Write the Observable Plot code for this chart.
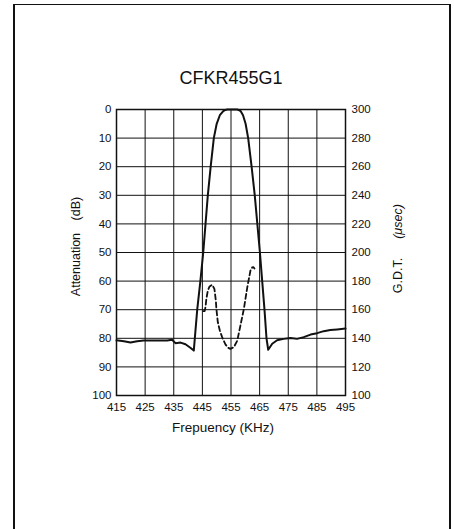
<!DOCTYPE html>
<html>
<head>
<meta charset="utf-8">
<script src="https://cdn.jsdelivr.net/npm/d3@7"></script>
<script src="https://cdn.jsdelivr.net/npm/@observablehq/plot@0.6"></script>
<style>
  html, body { margin: 0; padding: 0; background: #fff; }
  #wrap { position: relative; width: 454px; height: 529px; overflow: hidden; background: #fff; }
  #border { position: absolute; left: 13px; top: 4px; width: 434px; height: 600px;
            border-left: 2px solid #111; border-right: 2px solid #111; border-top: 1.5px solid #111; }
  #chart { position: absolute; left: 0; top: 0; }
</style>
</head>
<body>
<div id="wrap"><div id="border"></div><div id="chart"></div></div>
<script>
// Attenuation curve (dB) vs frequency (kHz)
const attFreq = [415, 417.6, 419.9, 422.2, 424.5, 429.2, 432.7, 434.4, 435.6, 437.4, 439.1, 440.8, 442,
  443.2, 444.3, 445.3, 446.1, 446.9, 447.9, 449, 450, 451.1, 452.3, 453, 453.7, 455.5, 457.2, 457.9, 458.4,
  459.2, 460.1, 461, 462.2, 463.3, 464.2, 465.1, 465.9, 466.7, 467.4, 468, 469.4, 471.1, 473.4, 475.8,
  478.1, 480.4, 482.8, 485.1, 487.4, 489.7, 492.1, 495];
const attDb = [80.7, 81, 81.5, 81, 80.8, 80.8, 80.8, 80.5, 81.7, 81.5, 82.1, 83.3, 84.3,
  70, 60, 50, 40, 30, 20, 10, 5, 2, 0.6, 0.15, 0, 0, 0, 0.3, 0.6,
  2, 5, 10, 20, 30, 40, 50, 60, 70, 80, 84, 81.9, 80.7, 80.2, 79.9,
  80.2, 79.6, 78.7, 78.2, 77.5, 77.1, 76.9, 76.6];

// Group delay time (usec) vs frequency (kHz)
const gdtFreq = [445.3, 445.8, 446.1, 446.4, 446.9, 447.5, 448.4, 449.2, 449.7, 449.9, 450.4, 451.1,
  451.9, 453.1, 454.0, 454.8, 456, 457.2, 458.3, 459.5, 460.7, 461.8, 462.4, 462.8, 463.2];
const gdtUs = [159, 159, 162, 167.6, 173.4, 176.2, 177.4, 174.6, 166.4, 160.6, 151.2, 145.4,
  140.8, 135.6, 133.4, 132.6, 133.8, 138.4, 149, 160.6, 175.8, 187.4, 189.6, 189.8, 188.8];

const xTicks = [415, 425, 435, 445, 455, 465, 475, 485, 495];
const attTicks = [0, 10, 20, 30, 40, 50, 60, 70, 80, 90, 100];
const gdtTicks = [300, 280, 260, 240, 220, 200, 180, 160, 140, 120, 100];

const att = attFreq.map((f, i) => ({f, v: attDb[i]}));
const gdt = gdtFreq.map((f, i) => ({f, v: gdtUs[i]}));
// right axis: 300 usec at 0 dB, 100 usec at 100 dB
const usToDb = us => (300 - us) / 2;

const font = "'Liberation Sans', Arial, Helvetica, sans-serif";
const ink = "#111";

const chart = Plot.plot({
  width: 454, height: 529,
  marginLeft: 116, marginRight: 109, marginTop: 109, marginBottom: 134,
  style: {fontFamily: font, fontSize: "11.5px", background: "transparent", color: ink},
  x: {domain: [415, 495]},
  y: {domain: [0, 100], reverse: true},
  marks: [
    Plot.ruleX(xTicks, {stroke: ink, strokeWidth: 1}),
    Plot.ruleY(attTicks, {stroke: ink, strokeWidth: 1}),
    Plot.frame({stroke: ink, strokeWidth: 1.5}),
    Plot.axisX({ticks: xTicks, tickSize: 0, tickPadding: 7, label: null, fill: ink}),
    Plot.axisY({ticks: attTicks, tickSize: 0, tickPadding: 5, label: null, fill: ink}),
    Plot.axisY({anchor: "right", ticks: attTicks, tickSize: 0, tickPadding: 6, label: null, fill: ink,
      tickFormat: d => gdtTicks[attTicks.indexOf(d)]}),
    Plot.line(att, {x: "f", y: "v", stroke: ink, strokeWidth: 2}),
    Plot.line(gdt, {x: "f", y: d => usToDb(d.v), stroke: ink, strokeWidth: 1.8, strokeDasharray: "5,3"}),
    Plot.text(["CFKR455G1"], {frameAnchor: "top", dy: -38, fontSize: 18, fill: ink}),
    Plot.text(["Frepuency (KHz)"], {frameAnchor: "bottom", dy: 36.7, dx: -8, fontSize: 13.5, fill: ink}),
    Plot.text(["Attenuation\u2003(dB)"], {frameAnchor: "left", textAnchor: "middle", dx: -41, dy: -6, rotate: -90, fontSize: 12.5, fill: ink}),
    Plot.text(["G.D.T."], {frameAnchor: "right", textAnchor: "middle", dx: 52, dy: 23, rotate: -90, fontSize: 12.5, fill: ink}),
    Plot.text(["(\u03bcsec)"], {frameAnchor: "right", textAnchor: "middle", dx: 52, dy: -31, rotate: -90, fontSize: 12.5, fontStyle: "italic", fill: ink})
  ]
});
document.getElementById("chart").appendChild(chart);
</script>
</body>
</html>
